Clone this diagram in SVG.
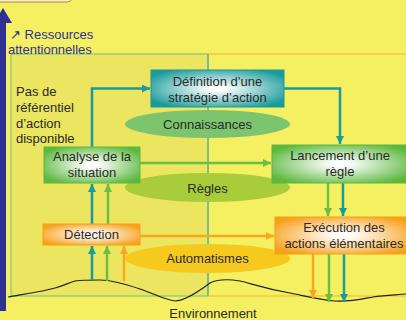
<svg xmlns="http://www.w3.org/2000/svg" width="406" height="320" viewBox="0 0 406 320">
<style>
text{font-family:"Liberation Sans",Arial,sans-serif;font-size:13px;fill:#2a2a2a}
.c{text-anchor:middle}
.blue{fill:#2e3192}
.teal{stroke:#1a9c9c;stroke-width:2.5;fill:none}
.green{stroke:#6cbf45;stroke-width:2.5;fill:none}
.orange{stroke:#f8a81c;stroke-width:2.5;fill:none}
</style>
<defs>
<radialGradient id="gT" cx="0.5" cy="0.5" r="0.6"><stop offset="0.1" stop-color="#ffffff"/><stop offset="1" stop-color="#1a9a9a"/></radialGradient>
<radialGradient id="gG" cx="0.5" cy="0.5" r="0.6"><stop offset="0.1" stop-color="#ffffff"/><stop offset="1" stop-color="#5cb83e"/></radialGradient>
<radialGradient id="gO" cx="0.5" cy="0.5" r="0.6"><stop offset="0.1" stop-color="#ffffff"/><stop offset="1" stop-color="#f7a01a"/></radialGradient>
<marker id="aT" markerUnits="userSpaceOnUse" markerWidth="10" markerHeight="10" refX="8" refY="4" orient="auto"><path d="M0,0 L8,4 L0,8 z" fill="#1a9c9c"/></marker>
<marker id="aG" markerUnits="userSpaceOnUse" markerWidth="10" markerHeight="10" refX="8" refY="4" orient="auto"><path d="M0,0 L8,4 L0,8 z" fill="#6cbf45"/></marker>
<marker id="aO" markerUnits="userSpaceOnUse" markerWidth="10" markerHeight="10" refX="8" refY="4" orient="auto"><path d="M0,0 L8,4 L0,8 z" fill="#f8a81c"/></marker>
</defs>
<rect width="406" height="320" fill="#f5ef62"/>
<rect x="-10" y="-20" width="83" height="22" rx="6" fill="#fdf6c4" stroke="#a8884a" stroke-width="1"/>
<rect x="11" y="54" width="197" height="242" fill="#ebe55f" stroke="#6cc08a" stroke-width="1"/>
<line x1="208" y1="54" x2="406" y2="54" stroke="#f8b030" stroke-width="1"/>
<line x1="208" y1="296" x2="406" y2="296" stroke="#f8b030" stroke-width="1"/>
<line x1="208" y1="54" x2="208" y2="296" stroke="#4aa89a" stroke-width="1"/>
<g id="resources">
<rect x="0" y="20" width="6" height="291" fill="#2e3192"/>
<polygon points="-6,23 3,8 12,23" fill="#2e3192"/>
<text x="10" y="39" class="blue">↗ Ressources</text>
<text x="8" y="54" class="blue">attentionnelles</text>
</g>
<g id="note">
<text x="16" y="96">Pas de</text>
<text x="16" y="112">référentiel</text>
<text x="16" y="128">d’action</text>
<text x="16" y="143">disponible</text>
</g>
<g id="ellipses">
<ellipse id="connaissances" cx="207.5" cy="124" rx="82.5" ry="14" fill="#7cc46e"/>
<ellipse id="regles" cx="207.5" cy="187.5" rx="82.5" ry="14.5" fill="#a8cc3a"/>
<ellipse id="automatismes" cx="207.5" cy="258.5" rx="82.5" ry="14.5" fill="#f6c91e"/>
<text x="207.5" y="129" class="c">Connaissances</text>
<text x="207.5" y="193" class="c">Règles</text>
<text x="207.5" y="263" class="c">Automatismes</text>
</g>
<path id="terrain" d="M8,297 C25,294 45,291 55,288 C63,286 68,283 75,281 C82,280 92,280 100,280 C110,280 125,284 140,289 C155,294 165,300 175,301 C185,301 198,292 210,283 C218,279 228,279 240,281 C250,283 262,288 290,293 C305,296 320,300 335,301 C350,302 362,299 373,297 C385,295 395,295 406,294" fill="none" stroke="#222" stroke-width="1.2"/>
<g id="connectors">
<path class="teal" d="M92,147 V88.5 H150" marker-end="url(#aT)"/>
<path class="teal" d="M284,88.5 H340 V144" marker-end="url(#aT)"/>
<path class="green" d="M140,163 H271" marker-end="url(#aG)"/>
<path class="orange" d="M140,236 H274" marker-end="url(#aO)"/>
<path class="teal" d="M92,224 V184" marker-end="url(#aT)"/>
<path class="green" d="M108,224 V184" marker-end="url(#aG)"/>
<path class="teal" d="M92,280 V246" marker-end="url(#aT)"/>
<path class="green" d="M107,281 V246" marker-end="url(#aG)"/>
<path class="orange" d="M124,281 V246" marker-end="url(#aO)"/>
<path class="green" d="M328,183 V216" marker-end="url(#aG)"/>
<path class="teal" d="M343,183 V216" marker-end="url(#aT)"/>
<path class="orange" d="M313,254 V298" marker-end="url(#aO)"/>
<path class="green" d="M329,254 V302" marker-end="url(#aG)"/>
<path class="teal" d="M344,254 V302" marker-end="url(#aT)"/>
</g>
<g id="definition">
<rect x="151" y="70" width="133" height="37" fill="url(#gT)" stroke="#1a9a9a" stroke-width="1"/>
<text x="217.5" y="86" class="c">Définition d’une</text>
<text x="217.5" y="102" class="c">stratégie d’action</text>
</g>
<g id="analyse">
<rect x="44" y="147" width="96" height="36" fill="url(#gG)" stroke="#5cb83e" stroke-width="1"/>
<text x="92" y="161" class="c">Analyse de la</text>
<text x="92" y="177" class="c">situation</text>
</g>
<g id="lancement">
<rect x="272" y="145" width="136" height="38" fill="url(#gG)" stroke="#5cb83e" stroke-width="1"/>
<text x="340" y="160" class="c">Lancement d’une</text>
<text x="340" y="176" class="c">règle</text>
</g>
<g id="detection">
<rect x="43" y="224" width="97" height="21" fill="url(#gO)" stroke="#f7a01a" stroke-width="1"/>
<text x="91.5" y="239" class="c">Détection</text>
</g>
<g id="execution">
<rect x="275" y="217" width="136" height="37" fill="url(#gO)" stroke="#f7a01a" stroke-width="1"/>
<text x="344" y="232" class="c">Exécution des</text>
<text x="344" y="248" class="c">actions élémentaires</text>
</g>
<text x="213" y="318" class="c">Environnement</text>
</svg>
